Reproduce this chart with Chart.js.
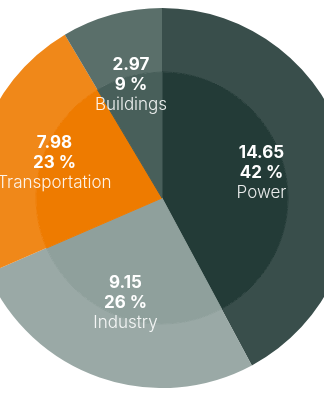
<!DOCTYPE html>
<html>
<head>
<meta charset="utf-8">
<script src="https://cdn.jsdelivr.net/npm/chart.js@4/dist/chart.umd.min.js"></script>
<style>
    html, body { margin: 0; padding: 0; background: #fff; overflow: hidden; }
    body { width: 324px; height: 400px; position: relative; }
    /* pie is larger than the viewport, so the wrapper bleeds off both sides */
    #wrap { position: absolute; left: -28px; top: 8px; width: 380px; height: 380px; }
</style>
</head>
<body>
<div id="wrap"><canvas id="emissions"></canvas></div>
<script>
const sectors = ['Power', 'Industry', 'Transportation', 'Buildings'];
const emissions = [14.65, 9.15, 7.98, 2.97];
const baseColors = ['#233b37', '#8fa09c', '#ee7b00', '#485f5a'];

const total = emissions.reduce((a, b) => a + b, 0);

function withAlpha(hex, a) {
    const n = parseInt(hex.slice(1), 16);
    return `rgba(${(n >> 16) & 255}, ${(n >> 8) & 255}, ${n & 255}, ${a})`;
}

// value / percent / sector name stacked inside each slice
const sliceLabels = {
    id: 'sliceLabels',
    afterDatasetsDraw(chart, args, opts) {
        const ctx = chart.ctx;
        const outer = chart.getDatasetMeta(0).data;
        ctx.save();
        ctx.textAlign = 'center';
        ctx.textBaseline = 'middle';
        outer.forEach((arc, i) => {
            const R = arc.outerRadius * opts.radius[i];
            const mid = (arc.startAngle + arc.endAngle) / 2;
            const x = arc.x + Math.cos(mid) * R;
            const y = arc.y + Math.sin(mid) * R;
            const pct = Math.round(emissions[i] / total * 100);
            ctx.fillStyle = '#fff';
            ctx.font = 'bold 17px Inter, "Noto Sans", sans-serif';
            ctx.fillText(emissions[i].toFixed(2), x, y - 20);
            ctx.fillText(pct + ' %', x, y);
            ctx.fillStyle = 'rgba(255,255,255,0.9)';
            ctx.font = '300 17px Inter, "Noto Sans", sans-serif';
            ctx.fillText(sectors[i], x, y + 20);
        });
        ctx.restore();
    }
};

new Chart(document.getElementById('emissions'), {
    type: 'pie',
    data: {
        labels: sectors,
        datasets: [
            // lighter outer ring
            { data: emissions, backgroundColor: baseColors.map(c => withAlpha(c, 0.9)), borderWidth: 0, weight: 64 },
            // solid inner disc; a same-colour border hides the seam to the ring
            { data: emissions, backgroundColor: baseColors, borderColor: baseColors, borderWidth: 1, weight: 126 }
        ]
    },
    options: {
        responsive: true, maintainAspectRatio: false, animation: false,
        layout: { padding: 0 },
        plugins: {
            legend: { display: false },
            tooltip: { enabled: false },
            sliceLabels: { radius: [0.54, 0.585, 0.595, 0.615] }
        },
        hoverOffset: 0
    },
    plugins: [sliceLabels]
});
</script>
</body>
</html>
